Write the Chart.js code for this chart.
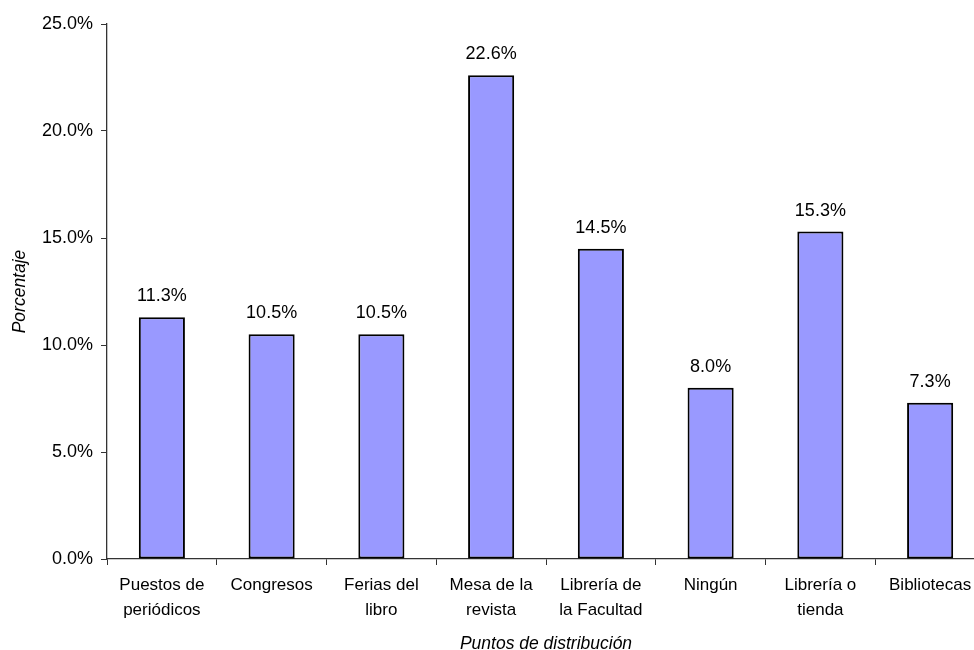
<!DOCTYPE html>
<html>
<head>
<meta charset="utf-8">
<script src="https://cdn.jsdelivr.net/npm/chart.js@4"></script>
<style>
  html, body { margin: 0; padding: 0; background: #fff; overflow: hidden; }
  #wrap { width: 990px; height: 650px; }
</style>
</head>
<body>
<div id="wrap"><canvas id="distChart" width="990" height="650"></canvas></div>
<script>
const categories = [
  ['Puestos de', 'periódicos'],
  'Congresos',
  ['Ferias del', 'libro'],
  ['Mesa de la', 'revista'],
  ['Librería de', 'la Facultad'],
  'Ningún',
  ['Librería o', 'tienda'],
  'Bibliotecas'
];
const percentages = [11.3, 10.5, 10.5, 22.6, 14.5, 8.0, 15.3, 7.3];
const yTicks = [0, 5, 10, 15, 20, 25];

Chart.defaults.font.family = '"Liberation Sans", Arial, sans-serif';
Chart.defaults.color = '#000';

// draws the value over each bar
const barLabels = {
  id: 'barLabels',
  afterDatasetsDraw(chart) {
    const ctx = chart.ctx;
    const meta = chart.getDatasetMeta(0);
    ctx.save();
    ctx.font = '18px "Liberation Sans", Arial, sans-serif';
    ctx.fillStyle = '#000';
    ctx.textAlign = 'center';
    ctx.textBaseline = 'middle';
    meta.data.forEach(function (bar, i) {
      ctx.fillText(percentages[i].toFixed(1) + '%', bar.x, bar.y - 21);
    });
    ctx.restore();
  }
};

const ctx = document.getElementById('distChart').getContext('2d');
new Chart(ctx, {
  type: 'bar',
  data: {
    labels: categories,
    datasets: [{
      data: percentages,
      backgroundColor: '#9999FF',
      borderColor: '#000',
      borderWidth: 2,
      borderSkipped: false,
      barPercentage: 0.42,
      categoryPercentage: 1
    }]
  },
  options: {
    responsive: false,
    animation: false,
    layout: { padding: { top: 24, right: 5, bottom: 0, left: 0 } },
    plugins: {
      legend: { display: false },
      tooltip: { enabled: false }
    },
    scales: {
      x: {
        offset: true,
        grid: { display: true, drawOnChartArea: false, offset: true, tickLength: 6, color: '#333' },
        border: { color: '#333', width: 1.3 },
        ticks: { maxRotation: 0, autoSkip: false, padding: 8, font: { size: 17, lineHeight: 1.47 } },
        title: { display: true, text: 'Puntos de distribución', font: { size: 17.5, style: 'italic' }, padding: { top: 0, bottom: -5 } },
        afterFit(scale) { scale.height = 91; }
      },
      y: {
        min: 0,
        max: 25,
        afterBuildTicks(scale) { scale.ticks = yTicks.map(v => ({ value: v })); },
        grid: { display: true, drawOnChartArea: false, tickLength: 6, color: '#333' },
        border: { color: '#333', width: 1.3 },
        ticks: { padding: 8, font: { size: 18 }, callback: v => v.toFixed(1) + '%' },
        title: { display: true, text: 'Porcentaje', font: { size: 17.5, style: 'italic' }, padding: { top: 10, bottom: 0 } },
        afterFit(scale) { scale.width = 107; }
      }
    }
  },
  plugins: [barLabels]
});
</script>
</body>
</html>
